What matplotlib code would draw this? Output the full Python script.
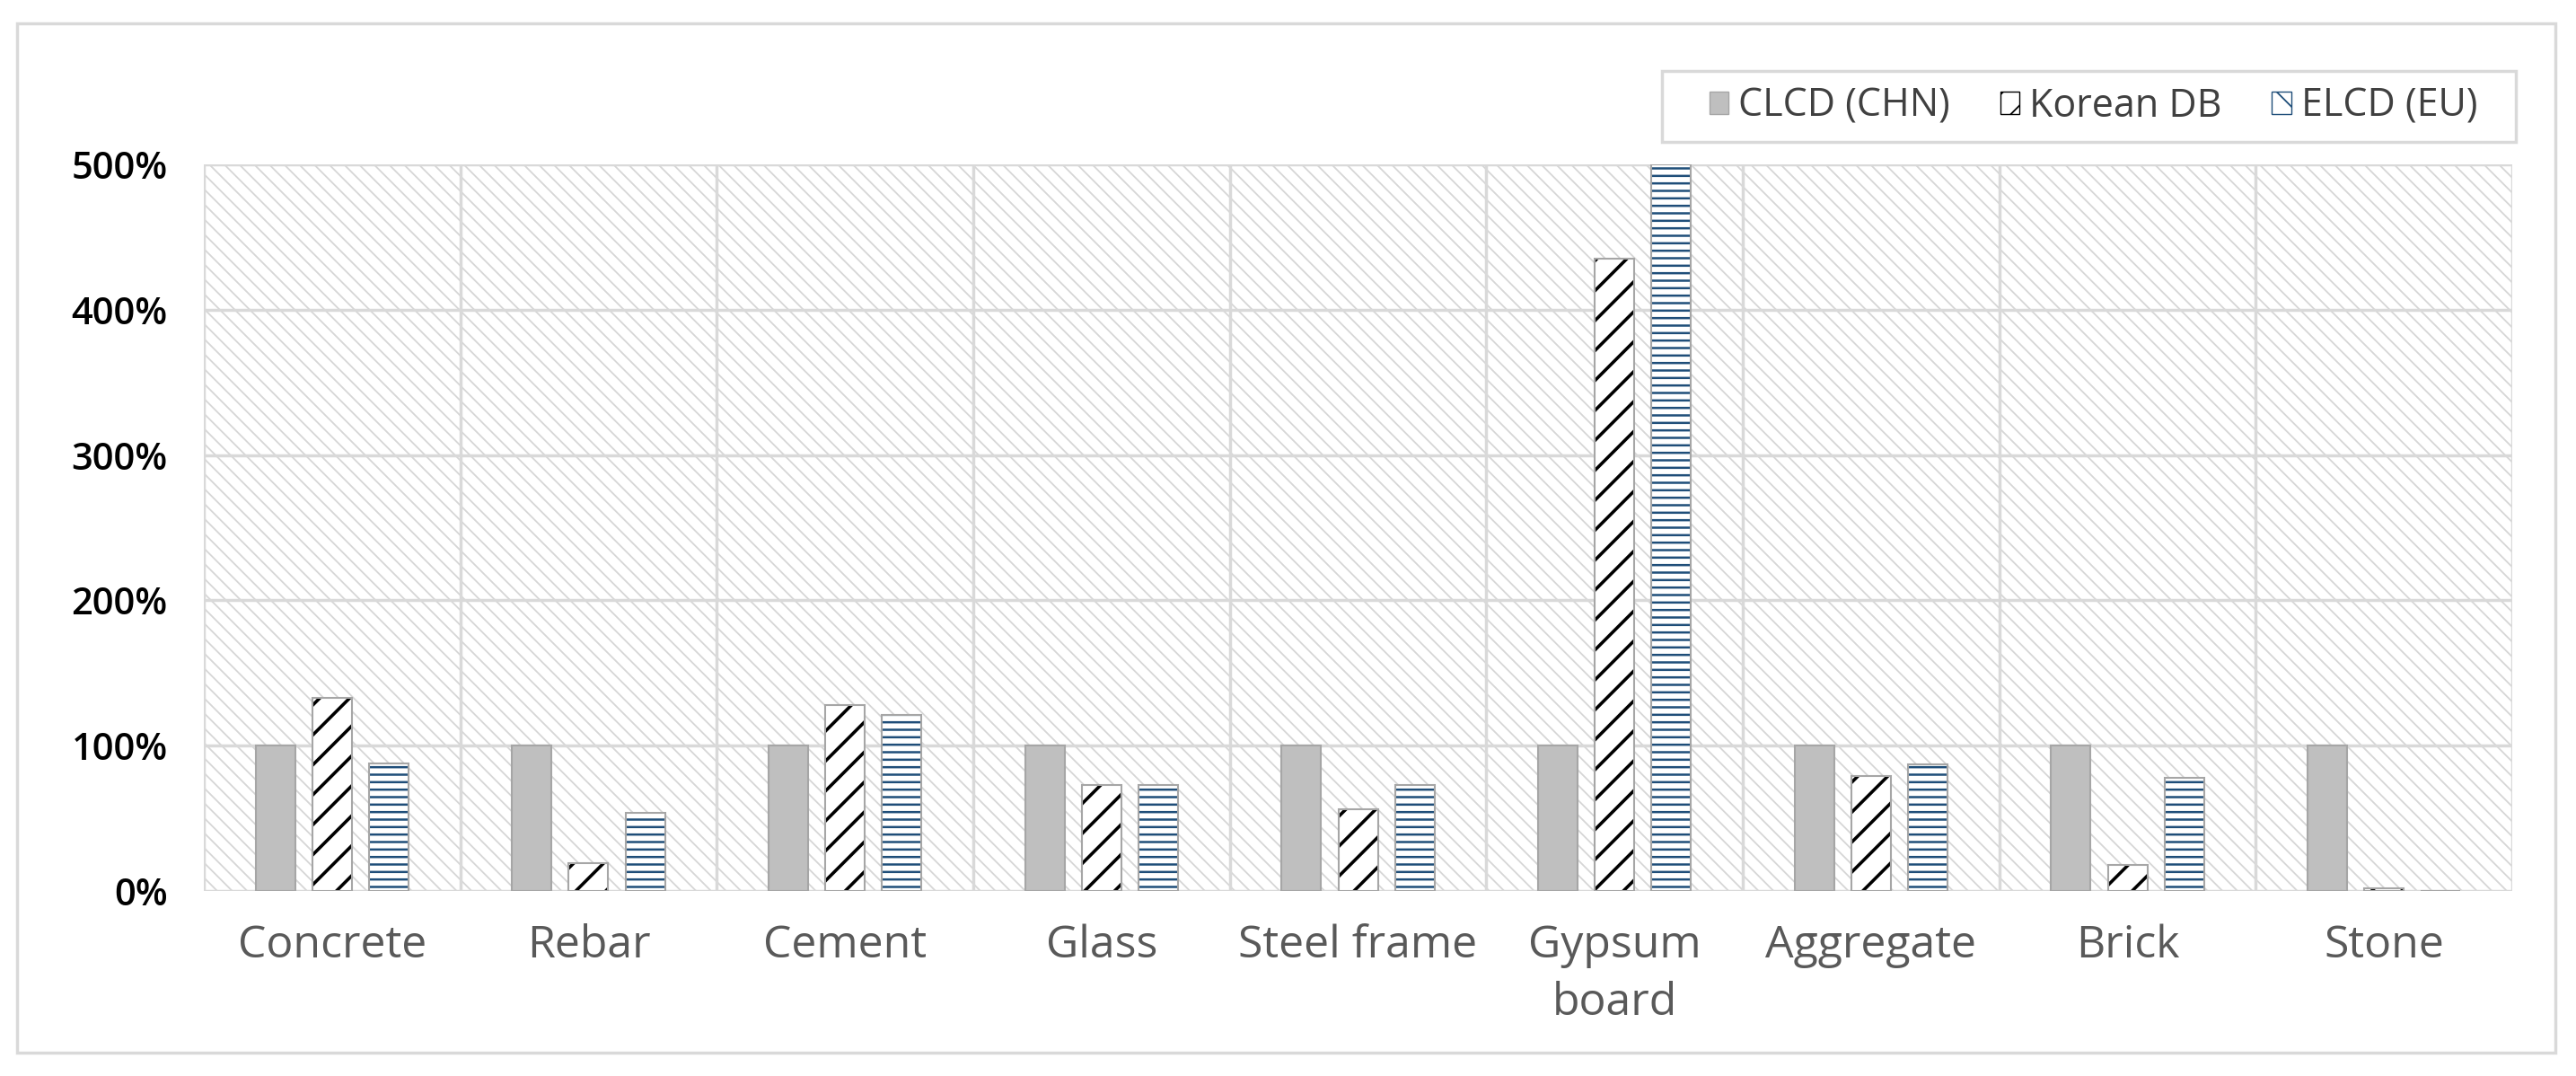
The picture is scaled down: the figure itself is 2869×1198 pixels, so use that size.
import matplotlib.pyplot as plt
import numpy as np
from matplotlib.patches import Rectangle

plt.rcParams['font.family'] = ['Open Sans', 'DejaVu Sans']
plt.rcParams['hatch.linewidth'] = 1.3

categories = ["Concrete", "Rebar", "Cement", "Glass", "Steel frame",
              "Gypsum\nboard", "Aggregate", "Brick", "Stone"]
clcd = [100, 100, 100, 100, 100, 100, 100, 100, 100]
korean = [133, 19, 128, 73, 56, 435, 79, 18, 2]
elcd = [88, 54, 121, 73, 73, 500, 87, 78, 0]
series_names = ["CLCD (CHN)", "Korean DB", "ELCD (EU)"]
yticks = [0, 100, 200, 300, 400, 500]

fig = plt.figure(figsize=(28.69, 11.98), dpi=100)
ax = fig.add_axes([0.0791, 0.172, 0.8962, 0.6752])

# outer frame of the chart
fig.patches.append(Rectangle((0.0066, 0.0217), 0.9854, 0.9563, transform=fig.transFigure,
                             fill=False, edgecolor='#d9d9d9', linewidth=2.5))

# hatched background of the plot area
ax.add_patch(Rectangle((-0.5, 0), len(categories), 500, facecolor='white',
                       edgecolor='#d6d6d6', hatch='\\\\', linewidth=0, zorder=0))

x = np.arange(len(categories))
w = 0.154
step = 0.221

ax.bar(x - step, clcd, w, color='#bfbfbf', edgecolor='#a6a6a6', linewidth=1.5, zorder=3)
kb = ax.bar(x, korean, w, color='white', edgecolor='black', hatch='/', linewidth=0, zorder=3)
ax.bar(x, korean, w, fill=False, edgecolor='#a6a6a6', linewidth=1.5, zorder=4)
eb = ax.bar(x + step, elcd, w, color='white', edgecolor='#1f4e79', hatch='--', linewidth=0, zorder=3)
ax.bar(x + step, elcd, w, fill=False, edgecolor='#a6a6a6', linewidth=1.5, zorder=4)
for p in kb:
    try:
        p.set_hatch_linewidth(2.6)
    except AttributeError:
        pass
for p in eb:
    try:
        p.set_hatch_linewidth(1.8)
    except AttributeError:
        pass

# legend: entries without frame, frame drawn separately
h1 = Rectangle((0, 0), 1, 1, facecolor='#bfbfbf', edgecolor='#a6a6a6')
h2 = Rectangle((0, 0), 1, 1, facecolor='white', edgecolor='black', hatch='/')
h3 = Rectangle((0, 0), 1, 1, facecolor='white', edgecolor='#1f4e79', hatch='\\')
leg = fig.legend([h1, h2, h3], series_names, loc='center', bbox_to_anchor=(0.8126, 0.9011),
                 ncol=3, fontsize=31, frameon=False, handlelength=0.5, handleheight=0.5,
                 handletextpad=0.25, columnspacing=1.3, borderpad=0.0)
for t in leg.get_texts():
    t.set_color('#404040')
fig.patches.append(Rectangle((1851 / 2869, 1 - 158 / 1198), 951 / 2869, 79 / 1198,
                             transform=fig.transFigure, fill=False,
                             edgecolor='#d9d9d9', linewidth=2.5))

ax.set_xlim(-0.5, len(categories) - 0.5)
ax.set_ylim(0, 500)
ax.set_yticks(yticks)
ax.set_yticklabels([f"{v}%" for v in yticks], fontsize=30, fontweight='semibold', color='black')
ax.set_xticks(x)
ax.set_xticklabels(categories, fontsize=36, color='#595959', linespacing=1.4)
ax.tick_params(length=0)
ax.tick_params(axis='x', pad=26)
ax.tick_params(axis='y', pad=29)

for v in yticks:
    ax.axhline(v, color='#d9d9d9', linewidth=2.5, zorder=1)
for b in np.arange(len(categories) + 1) - 0.5:
    ax.axvline(b, color='#d9d9d9', linewidth=2.5, zorder=1)

for s in ax.spines.values():
    s.set_visible(False)
ax.set_facecolor('white')

fig.savefig("out.png", dpi=100)
